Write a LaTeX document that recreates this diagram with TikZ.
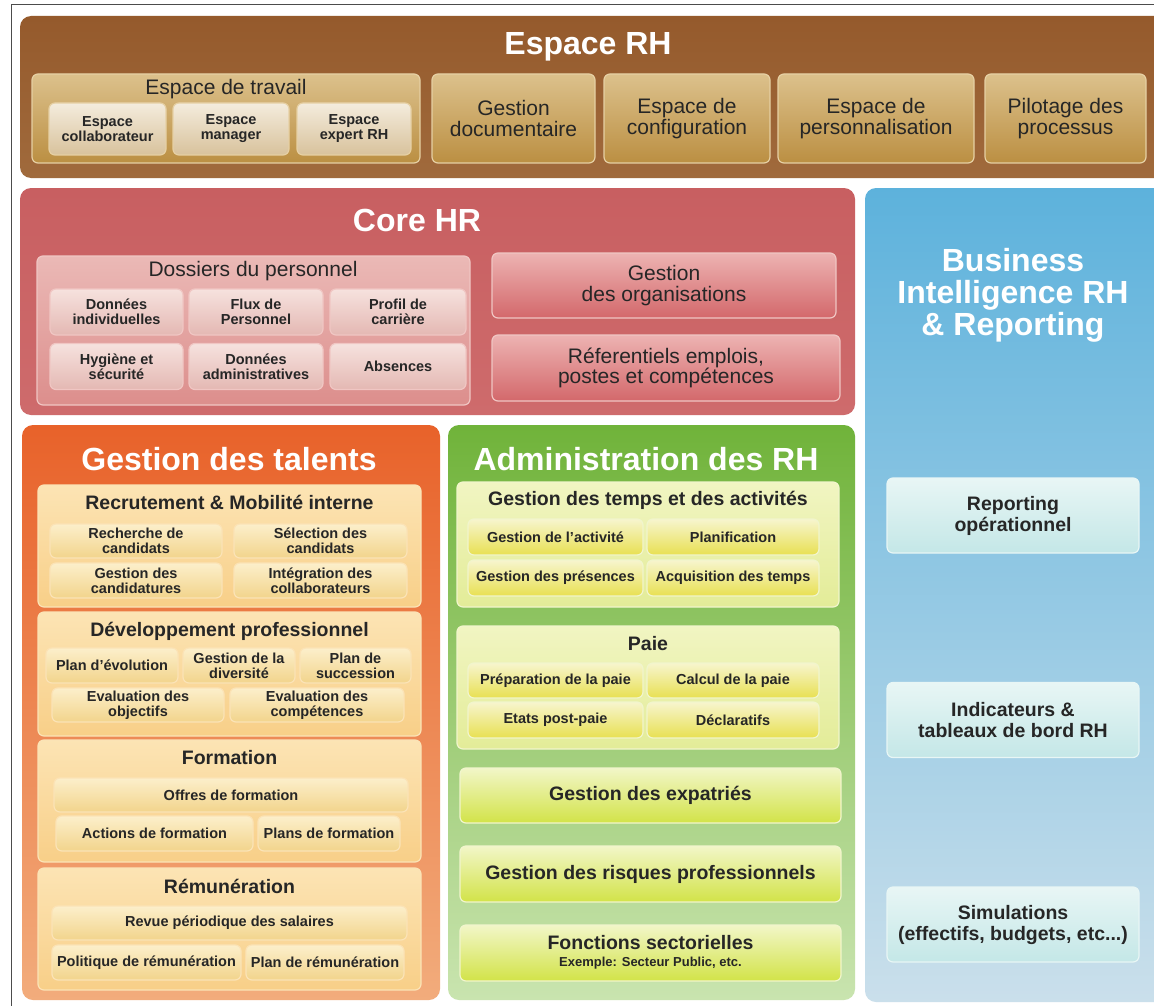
\documentclass[tikz,border=0pt]{standalone}
\usepackage{fontspec}
\setmainfont{Liberation Sans}
\definecolor{txt}{HTML}{262626}
\definecolor{brownA}{HTML}{955A2C}
\definecolor{brownB}{HTML}{A06A3C}
\definecolor{tanA}{HTML}{DCC18C}
\definecolor{tanB}{HTML}{BB8F42}
\definecolor{tanE}{HTML}{E6D0A4}
\definecolor{tanIA}{HTML}{F4ECDD}
\definecolor{tanIB}{HTML}{D8C29C}
\definecolor{coreA}{HTML}{C85F61}
\definecolor{coreB}{HTML}{CE6B6C}
\definecolor{dosA}{HTML}{EBB9B6}
\definecolor{dosB}{HTML}{DC8E8C}
\definecolor{dosE}{HTML}{F0C6C3}
\definecolor{ciA}{HTML}{F6E2DE}
\definecolor{ciB}{HTML}{E4B8B3}
\definecolor{orgA}{HTML}{EDB3B2}
\definecolor{orgB}{HTML}{D3686B}
\definecolor{biA}{HTML}{5DB2DC}
\definecolor{biB}{HTML}{CADFEB}
\definecolor{biIA}{HTML}{E8F6F5}
\definecolor{biIB}{HTML}{C4E7E7}
\definecolor{talA}{HTML}{E8622A}
\definecolor{talB}{HTML}{F2AC7C}
\definecolor{secA}{HTML}{FCE4B4}
\definecolor{secB}{HTML}{F8CF88}
\definecolor{secE}{HTML}{FBE3B6}
\definecolor{tiA}{HTML}{FCEFCB}
\definecolor{tiB}{HTML}{F2D48C}
\definecolor{admA}{HTML}{70B33A}
\definecolor{admB}{HTML}{C9E4AF}
\definecolor{gsA}{HTML}{F1F5C2}
\definecolor{gsB}{HTML}{E3EC98}
\definecolor{gsE}{HTML}{F1F5CC}
\definecolor{yiA}{HTML}{F7F5CE}
\definecolor{yiB}{HTML}{E8E052}
\definecolor{limA}{HTML}{F2F6C8}
\definecolor{limB}{HTML}{D2E348}
\newcommand\fbigt{\fontsize{32}{32}\selectfont\bfseries}
\newcommand\fsect{\fontsize{19.5}{21}\selectfont\bfseries}
\newcommand\fregt{\fontsize{21}{20.5}\selectfont}
\newcommand\fitem{\fontsize{14.5}{15}\selectfont\bfseries}
\newcommand\fsmall{\fontsize{13}{14}\selectfont\bfseries}
\begin{document}
\begin{tikzpicture}[x=1pt,y=-1pt,
  every node/.style={inner sep=0pt, align=center, text=txt},
  panel/.style 2 args={rounded corners=11pt, top color=#1, bottom color=#2, draw=none},
  box/.style n args={3}{rounded corners=6pt, top color=#1, bottom color=#2, draw=#3, line width=1.2pt},
  ptitle/.style={text=white, font=\fbigt},
  stitle/.style={font=\fsect},
  rtitle/.style={font=\fregt},
  itm/.style={font=\fitem},
]
\useasboundingbox (0,0) rectangle (1154,1006);
\fill[white] (0,0) rectangle (1154,1006);
\draw[line width=1pt, black!70] (11,1010) -- (11,5) -- (1160,5);

% ===== Espace RH =====
\node[panel={brownA}{brownB}, minimum width=1150, minimum height=162] (erh) at (595,97) {};
\node[ptitle] (erht) at (588,47) {Espace RH};
\node[box={tanA}{tanB}{tanE}, minimum width=388, minimum height=89] (edt) at (226,118.5) {};
\node[rtitle] (edtt) at (226,89) {Espace de travail};
\node[box={tanIA}{tanIB}{tanE}, minimum width=117, minimum height=52, font=\fitem] (ecol) at (107.5,129) {Espace\\collaborateur};
\node[box={tanIA}{tanIB}{tanE}, minimum width=116, minimum height=52, font=\fitem] (eman) at (231,129) {Espace\\manager};
\node[box={tanIA}{tanIB}{tanE}, minimum width=114, minimum height=52, font=\fitem] (eexp) at (354,129) {Espace\\expert RH};
\node[box={tanA}{tanB}{tanE}, minimum width=163, minimum height=89, font=\fregt] (gdoc) at (513.5,118.5) {Gestion\\documentaire};
\node[box={tanA}{tanB}{tanE}, minimum width=166, minimum height=89, font=\fregt] (econf) at (687,118.5) {Espace de\\configuration};
\node[box={tanA}{tanB}{tanE}, minimum width=196, minimum height=89, font=\fregt] (epers) at (876,118.5) {Espace de\\personnalisation};
\node[box={tanA}{tanB}{tanE}, minimum width=161, minimum height=89, font=\fregt] (pilot) at (1065.5,118.5) {Pilotage des\\processus};

% ===== Core HR =====
\node[panel={coreA}{coreB}, minimum width=835, minimum height=227] (core) at (437.5,301.5) {};
\node[ptitle] (coret) at (417,220) {Core HR};
\node[box={dosA}{dosB}{dosE}, minimum width=433, minimum height=149] (dos) at (253.5,330.5) {};
\node[rtitle] (dost) at (253,271) {Dossiers du personnel};
\node[box={ciA}{ciB}{dosE}, minimum width=133, minimum height=46, font=\fitem] (dind) at (116.5,312) {Données\\individuelles};
\node[box={ciA}{ciB}{dosE}, minimum width=134, minimum height=46, font=\fitem] (flux) at (256,312) {Flux de\\Personnel};
\node[box={ciA}{ciB}{dosE}, minimum width=136, minimum height=46, font=\fitem] (prof) at (398,312) {Profil de\\carrière};
\node[box={ciA}{ciB}{dosE}, minimum width=133, minimum height=46, font=\fitem] (hyg) at (116.5,366.5) {Hygiène et\\sécurité};
\node[box={ciA}{ciB}{dosE}, minimum width=134, minimum height=46, font=\fitem] (dadm) at (256,366.5) {Données\\administratives};
\node[box={ciA}{ciB}{dosE}, minimum width=136, minimum height=46, font=\fitem] (abs) at (398,366.5) {Absences};
\node[box={orgA}{orgB}{dosE}, minimum width=344, minimum height=65, font=\fregt] (gorg) at (664,285.5) {Gestion\\des organisations};
\node[box={orgA}{orgB}{dosE}, minimum width=348, minimum height=66, font=\fregt] (ref) at (666,368) {Réferentiels emplois,\\postes et compétences};

% ===== Business Intelligence =====
\node[panel={biA}{biB}, minimum width=305, minimum height=814] (bi) at (1017.5,595) {};
\node[text=white, font=\fbigt] (bit) at (1013,295) {Business\\Intelligence RH\\\& Reporting};
\node[box={biIA}{biIB}{biIA}, minimum width=252, minimum height=75, font=\fsect] (rep) at (1013,515.5) {Reporting\\opérationnel};
\node[box={biIA}{biIB}{biIA}, minimum width=252, minimum height=75, font=\fsect] (ind) at (1013,720) {Indicateurs \&\\tableaux de bord RH};
\node[box={biIA}{biIB}{biIA}, minimum width=252, minimum height=75, font=\fsect] (sim) at (1013,924.5) {Simulations\\(effectifs, budgets, etc...)};

% ===== Gestion des talents =====
\node[panel={talA}{talB}, minimum width=418, minimum height=575] (tal) at (231,712.5) {};
\node[ptitle] (talt) at (229,459) {Gestion des talents};
% Recrutement
\node[box={secA}{secB}{secE}, minimum width=383, minimum height=122] (rec) at (229.5,546) {};
\node[stitle] (rect) at (229.5,502) {Recrutement \& Mobilité interne};
\node[box={tiA}{tiB}{secE}, minimum width=172, minimum height=34, font=\fitem] (rcand) at (136,541) {Recherche de\\candidats};
\node[box={tiA}{tiB}{secE}, minimum width=173, minimum height=34, font=\fitem] (scand) at (320.5,541) {Sélection des\\candidats};
\node[box={tiA}{tiB}{secE}, minimum width=172, minimum height=35, font=\fitem] (gcand) at (136,580.5) {Gestion des\\candidatures};
\node[box={tiA}{tiB}{secE}, minimum width=173, minimum height=35, font=\fitem] (integ) at (320.5,580.5) {Intégration des\\collaborateurs};
% Developpement
\node[box={secA}{secB}{secE}, minimum width=383, minimum height=124] (dev) at (229.5,674) {};
\node[stitle] (devt) at (229.5,631) {Développement professionnel};
\node[box={tiA}{tiB}{secE}, minimum width=132, minimum height=35, font=\fitem] (pevo) at (112,665.5) {Plan d'évolution};
\node[box={tiA}{tiB}{secE}, minimum width=112, minimum height=35, font=\fitem] (gdiv) at (239,665.5) {Gestion de la\\diversité};
\node[box={tiA}{tiB}{secE}, minimum width=111, minimum height=35, font=\fitem] (psuc) at (355.5,665.5) {Plan de\\succession};
\node[box={tiA}{tiB}{secE}, minimum width=172, minimum height=34, font=\fitem] (eobj) at (138,705) {Evaluation des\\objectifs};
\node[box={tiA}{tiB}{secE}, minimum width=174, minimum height=34, font=\fitem] (ecomp) at (317,705) {Evaluation des\\compétences};
% Formation
\node[box={secA}{secB}{secE}, minimum width=383, minimum height=122] (form) at (229.5,801) {};
\node[stitle] (formt) at (229.5,758) {Formation};
\node[box={tiA}{tiB}{secE}, minimum width=354, minimum height=34, font=\fitem] (offr) at (231,795) {Offres de formation};
\node[box={tiA}{tiB}{secE}, minimum width=197, minimum height=35, font=\fitem] (actf) at (154.5,833.5) {Actions de formation};
\node[box={tiA}{tiB}{secE}, minimum width=142, minimum height=35, font=\fitem] (planf) at (329,833.5) {Plans de formation};
% Remuneration
\node[box={secA}{secB}{secE}, minimum width=383, minimum height=122] (rem) at (229.5,929) {};
\node[stitle] (remt) at (229.5,886) {Rémunération};
\node[box={tiA}{tiB}{secE}, minimum width=355, minimum height=34, font=\fitem] (revue) at (229.5,923) {Revue périodique des salaires};
\node[box={tiA}{tiB}{secE}, minimum width=189, minimum height=35, font=\fitem] (polr) at (146.5,962.5) {Politique de rémunération};
\node[box={tiA}{tiB}{secE}, minimum width=158, minimum height=35, font=\fitem] (planr) at (325,962.5) {Plan de rémunération};

% ===== Administration des RH =====
\node[panel={admA}{admB}, minimum width=407, minimum height=575] (adm) at (651.5,712.5) {};
\node[ptitle] (admt) at (646,459) {Administration des RH};
\node[box={gsA}{gsB}{gsE}, minimum width=382, minimum height=125] (temps) at (648,544.5) {};
\node[stitle] (tempst) at (648,500) {Gestion des temps et des activités};
\node[box={yiA}{yiB}{gsE}, minimum width=175, minimum height=36, font=\fitem] (gact) at (555.5,537) {Gestion de l'activité};
\node[box={yiA}{yiB}{gsE}, minimum width=172, minimum height=36, font=\fitem] (plan) at (733,537) {Planification};
\node[box={yiA}{yiB}{gsE}, minimum width=175, minimum height=36, font=\fitem] (gpres) at (555.5,578) {Gestion des présences};
\node[box={yiA}{yiB}{gsE}, minimum width=172, minimum height=36, font=\fitem] (acq) at (733,578) {Acquisition des temps};
\node[box={gsA}{gsB}{gsE}, minimum width=382, minimum height=123] (paie) at (648,687.5) {};
\node[stitle] (paiet) at (648,644) {Paie};
\node[box={yiA}{yiB}{gsE}, minimum width=175, minimum height=35, font=\fitem] (prep) at (555.5,680.5) {Préparation de la paie};
\node[box={yiA}{yiB}{gsE}, minimum width=172, minimum height=35, font=\fitem] (calc) at (733,680.5) {Calcul de la paie};
\node[box={yiA}{yiB}{gsE}, minimum width=175, minimum height=36, font=\fitem] (etat) at (555.5,720) {Etats post-paie};
\node[box={yiA}{yiB}{gsE}, minimum width=172, minimum height=36, font=\fitem] (decl) at (733,720) {Déclaratifs};
\node[box={limA}{limB}{gsE}, minimum width=381, minimum height=55, font=\fsect] (expa) at (650.5,795.5) {Gestion des expatriés};
\node[box={limA}{limB}{gsE}, minimum width=381, minimum height=56, font=\fsect] (risq) at (650.5,874) {Gestion des risques professionnels};
\node[box={limA}{limB}{gsE}, minimum width=381, minimum height=56] (fsec) at (650.5,953) {};
\node[font=\fsect] (fsect) at (650.5,943) {Fonctions sectorielles};
\node[font=\fsmall] (fsecs) at (650.5,963) {Exemple: Secteur Public, etc.};
\end{tikzpicture}
\end{document}
